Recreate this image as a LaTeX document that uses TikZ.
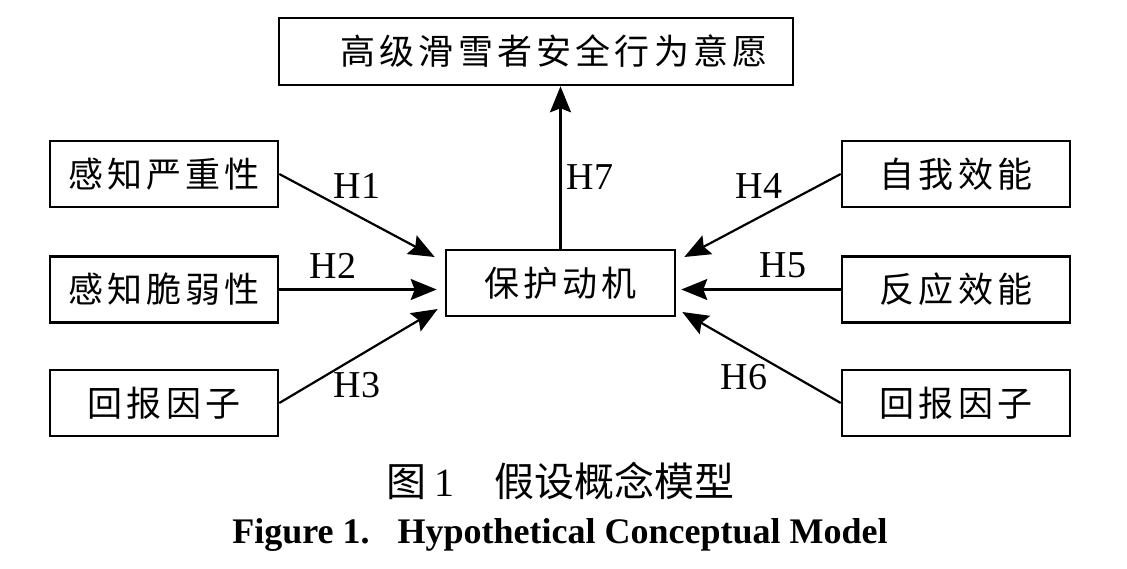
\documentclass[tikz,border=0pt]{standalone}
\usepackage{fontspec}
\setmainfont{Liberation Serif}
\newfontfamily\cjk[LetterSpace=12]{Noto Sans CJK SC}
\newfontfamily\cjkcap{Noto Sans CJK SC}
\usetikzlibrary{arrows.meta}

\begin{document}
\begin{tikzpicture}[x=1pt,y=-1pt,
  box/.style={draw, line width=2.6pt, inner sep=0pt, minimum width=228pt, minimum height=66pt, font=\cjk\fontsize{35}{40}\selectfont},
  pfeil/.style={line width=2.2pt, -{Stealth[length=26pt,width=21pt,inset=4pt]}},
  lab/.style={font=\fontsize{38}{42}\selectfont, inner sep=0pt}]

\useasboundingbox (0,0) rectangle (1127,568);

% Laatikot
\node[box, minimum width=514pt, minimum height=67pt] (aie) at (536,51.5) {\hspace*{36pt}高级滑雪者安全行为意愿};
\node[box, minimum width=229pt] (mot) at (560.5,283) {保护动机};
\foreach \n/\y/\t in {v1/174/感知严重性, v2/289.5/感知脆弱性, v3/403/回报因子}
	\node[box] (\n) at (164,\y) {\t};
\foreach \n/\y/\t in {o1/174/自我效能, o2/289.5/反应效能, o3/403/回报因子}
	\node[box] (\n) at (956,\y) {\t};

% Nuolet
\draw[pfeil] (v1.east) -- ([xshift=-10pt,yshift=26pt]mot.west);
\draw[pfeil] (v2.east) -- ([xshift=-8pt]mot.west |- v2.east);
\draw[pfeil] (v3.east) -- ([xshift=-7pt,yshift=-26pt]mot.west);
\draw[pfeil] (o1.west) -- ([xshift=8pt,yshift=26pt]mot.east);
\draw[pfeil] (o2.west) -- ([xshift=5pt]mot.east |- o2.west);
\draw[pfeil] (o3.west) -- ([xshift=6pt,yshift=-29pt]mot.east);
\draw[pfeil] (mot.north) -- (mot.north |- aie.south);

% Hypoteesit
\node[lab] (h1) at (357,186) {H1};
\node[lab] (h2) at (333,266) {H2};
\node[lab] (h3) at (357,385) {H3};
\node[lab] (h4) at (759,186) {H4};
\node[lab] (h5) at (783,265) {H5};
\node[lab] (h6) at (744,377) {H6};
\node[lab] (h7) at (590,177) {H7};

% Kuvateksti
\node[anchor=base, font=\fontsize{40}{44}\selectfont] (fig) at (560,496) {\cjkcap 图\hspace{8pt}{\rmfamily 1}\hspace{40pt}假设概念模型};
\node[anchor=base, font=\bfseries\fontsize{36}{40}\selectfont] (figen) at (560,543) {Figure 1.\hspace{28pt}Hypothetical Conceptual Model};

\end{tikzpicture}
\end{document}
